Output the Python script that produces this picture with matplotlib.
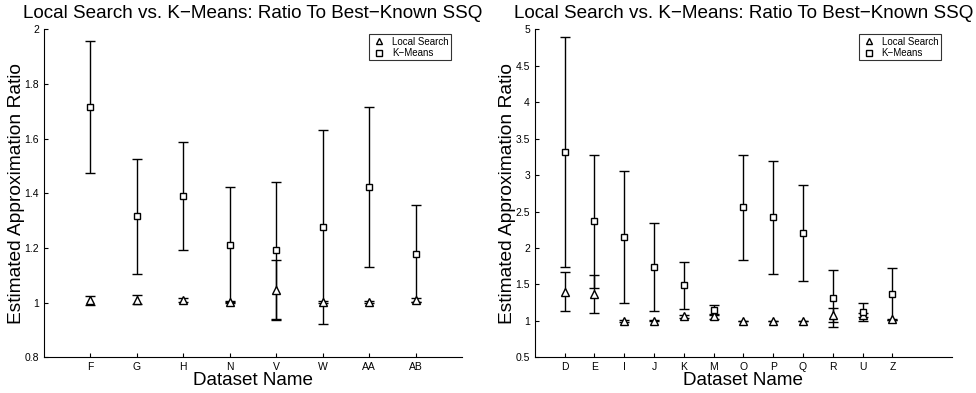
import matplotlib
matplotlib.use("Agg")
import matplotlib.pyplot as plt
from matplotlib.ticker import FuncFormatter
from matplotlib.lines import Line2D

plt.rcParams['font.family'] = ['Liberation Sans', 'DejaVu Sans']

# Left panel
left_names = ["F", "G", "H", "N", "V", "W", "AA", "AB"]
left_ls_mean = [1.009, 1.011, 1.010, 1.003, 1.046, 1.002, 1.003, 1.010]
left_ls_err = [0.017, 0.017, 0.008, 0.003, 0.109, 0.003, 0.003, 0.008]
left_km_mean = [1.715, 1.316, 1.390, 1.212, 1.191, 1.277, 1.424, 1.179]
left_km_err = [0.241, 0.211, 0.199, 0.211, 0.252, 0.355, 0.293, 0.178]

# Right panel
right_names = ["D", "E", "I", "J", "K", "M", "O", "P", "Q", "R", "U", "Z"]
right_ls_mean = [1.40, 1.364, 1.00, 1.005, 1.06, 1.06, 1.00, 1.00, 1.00, 1.085, 1.08, 1.02]
right_ls_err = [0.265, 0.26, 0.01, 0.01, 0.02, 0.03, 0.005, 0.005, 0.005, 0.095, 0.03, 0.01]
right_km_mean = [3.314, 2.364, 2.149, 1.738, 1.487, 1.149, 2.561, 2.423, 2.204, 1.31, 1.12, 1.365]
right_km_err = [1.58, 0.91, 0.91, 0.60, 0.325, 0.07, 0.72, 0.775, 0.66, 0.39, 0.12, 0.355]

series_labels = ["Local Search", "K\u2212Means"]
title = "Local Search vs. K\u2212Means: Ratio To Best\u2212Known SSQ"

fig = plt.figure(figsize=(9.76, 3.93), dpi=100)
ax1 = fig.add_axes([0.0451, 0.0908, 0.4283, 0.8346])
ax2 = fig.add_axes([0.548, 0.0908, 0.4273, 0.8346])


def fmt(v, pos):
    return "%g" % round(v, 3)


def draw(ax, names, lsm, lse, kmm, kme, xmax, ylim, yticks):
    x = list(range(1, len(names) + 1))
    ax.errorbar(x, lsm, yerr=lse, fmt='^', color='black', mfc='white', mec='black',
                ms=6, mew=1.0, ecolor='black', elinewidth=1.0, capsize=3.5, capthick=1.0,
                zorder=3)
    ax.errorbar(x, kmm, yerr=kme, fmt='s', color='black', mfc='white', mec='black',
                ms=4.5, mew=1.0, ecolor='black', elinewidth=1.0, capsize=3.5, capthick=1.0,
                zorder=3)
    ax.set_xlim(0, xmax)
    ax.set_ylim(*ylim)
    ax.set_xticks(x)
    ax.set_xticklabels(names, fontsize=7.5)
    ax.set_yticks(yticks)
    ax.yaxis.set_major_formatter(FuncFormatter(fmt))
    ax.tick_params(axis='both', direction='in', length=3, labelsize=7.5, width=0.8)
    ax.spines['top'].set_visible(False)
    ax.spines['right'].set_visible(False)
    ax.set_title(title, fontsize=13.6, pad=8)
    ax.set_xlabel("Dataset Name", fontsize=13.6, labelpad=0)
    ax.set_ylabel("Estimated Approximation Ratio", fontsize=13.8)
    ax.yaxis.set_label_coords(-0.046, 0.5)
    handles = [
        Line2D([], [], ls='none', marker='^', mfc='white', mec='black', ms=5, mew=1.0),
        Line2D([], [], ls='none', marker='s', mfc='white', mec='black', ms=4, mew=1.0),
    ]
    leg = ax.legend(handles, series_labels, loc='upper right', fontsize=7,
                    frameon=True, fancybox=False, edgecolor='black',
                    handlelength=1.5, borderpad=0.25, labelspacing=0.15,
                    handletextpad=0.6, bbox_to_anchor=(0.985, 1.0))
    leg.get_frame().set_linewidth(0.8)


draw(ax1, left_names, left_ls_mean, left_ls_err, left_km_mean, left_km_err, 9,
     (0.8, 2.0), [0.8, 1.0, 1.2, 1.4, 1.6, 1.8, 2.0])
draw(ax2, right_names, right_ls_mean, right_ls_err, right_km_mean, right_km_err, 14,
     (0.5, 5.0), [0.5, 1, 1.5, 2, 2.5, 3, 3.5, 4, 4.5, 5])

fig.savefig("out.png", dpi=100)
